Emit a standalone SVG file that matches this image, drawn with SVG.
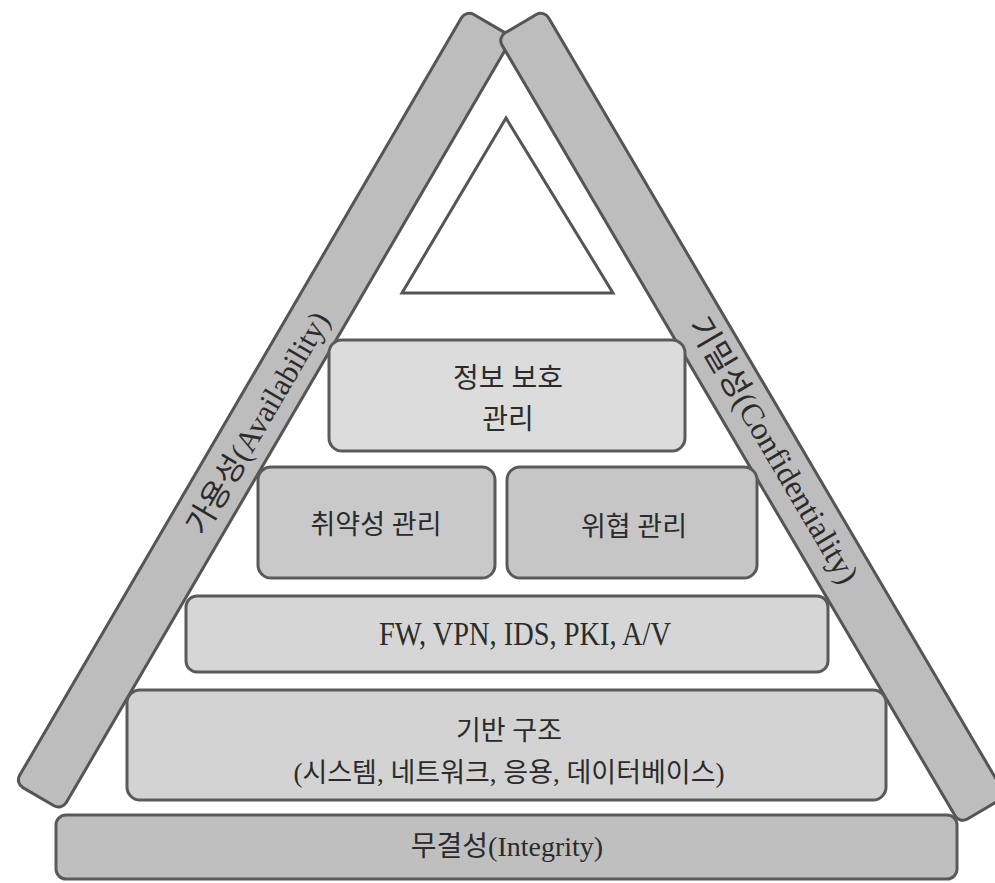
<svg xmlns="http://www.w3.org/2000/svg" width="995" height="883" viewBox="0 0 995 883">
<style>
.bar{fill:#bdbdbd;stroke:#555;stroke-width:3}
.box{stroke:#5a5a5a;stroke-width:3}
.t{font-family:"Liberation Serif","Noto Sans CJK KR",serif;fill:#2b2b2b;text-anchor:middle}
</style>
<rect width="995" height="883" fill="#ffffff"/>
<g id="availability">
<rect class="bar" x="0" y="0" width="54" height="895" rx="9" transform="translate(466,10) rotate(30.25)"/>
<text class="t" font-size="31" dominant-baseline="central" transform="translate(258,423) rotate(-59.7)">가용성(Availability)</text>
</g>
<g id="confidentiality">
<rect class="bar" x="-54" y="0" width="54" height="912" rx="9" transform="translate(544,10) rotate(-30.45)"/>
<text class="t" font-size="32" dominant-baseline="central" transform="translate(774,450) rotate(59.5)">기밀성(Confidentiality)</text>
</g>
<g id="apex">
<polygon points="506,118 402,293 613,293" fill="#ffffff" stroke="#555" stroke-width="3" stroke-linejoin="miter"/>
</g>
<g id="info-protection">
<rect class="box" x="329" y="340" width="356" height="111" rx="13" fill="#dcdcdc"/>
<text class="t" font-size="28" x="508" y="388">정보 보호</text>
<text class="t" font-size="28" x="508" y="429">관리</text>
</g>
<g id="vulnerability">
<rect class="box" x="258" y="467" width="237" height="111" rx="13" fill="#c9c9c9"/>
<text class="t" font-size="27" x="376" y="534">취약성 관리</text>
</g>
<g id="threat">
<rect class="box" x="507" y="467" width="250" height="111" rx="13" fill="#c6c6c6"/>
<text class="t" font-size="27" x="634" y="536">위협 관리</text>
</g>
<g id="security-tools">
<rect class="box" x="186" y="596" width="642" height="76" rx="11" fill="#d6d6d6"/>
<text class="t" font-size="33" x="525" y="645" textLength="292" lengthAdjust="spacingAndGlyphs">FW, VPN, IDS, PKI, A/V</text>
</g>
<g id="infrastructure">
<rect class="box" x="127" y="690" width="759" height="110" rx="13" fill="#d3d3d3"/>
<text class="t" font-size="27" x="509" y="740">기반 구조</text>
<text class="t" font-size="27" x="509" y="782">(시스템, 네트워크, 응용, 데이터베이스)</text>
</g>
<g id="integrity">
<rect class="box" x="56" y="815" width="901" height="64" rx="10" fill="#bfbfbf"/>
<text class="t" font-size="28" x="507" y="856">무결성(Integrity)</text>
</g>
<g id="connectors"></g>
</svg>
